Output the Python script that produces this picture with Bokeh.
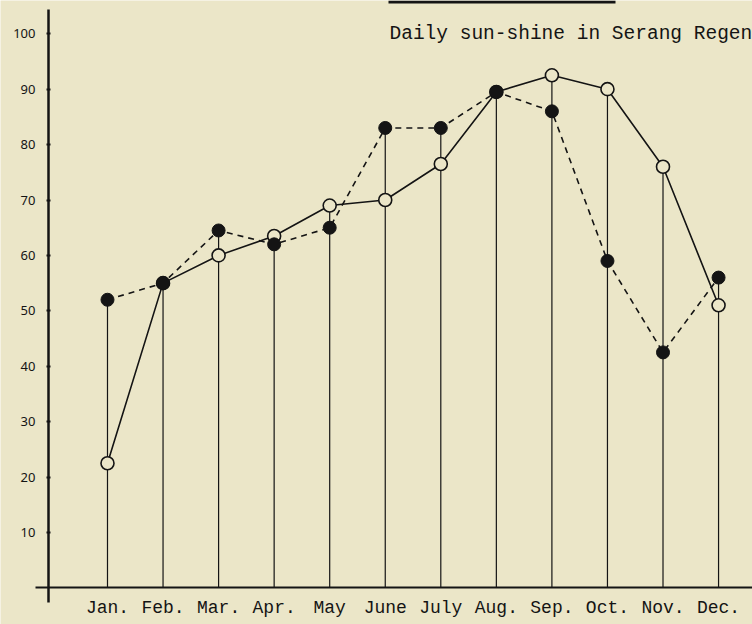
import numpy as np
from bokeh.plotting import figure
from bokeh.models import (Range1d, LinearAxis, FixedTicker, Label,
                          ColumnDataSource, BoxAnnotation)
from bokeh.embed import file_html
from bokeh.resources import INLINE

# ---- data ----
months = ["Jan.", "Feb.", "Mar.", "Apr.", "May", "June", "July",
          "Aug.", "Sep.", "Oct.", "Nov.", "Dec."]
sunshine_open = [22.5, 55, 60, 63.5, 69, 70, 76.5, 89.5, 92.5, 90, 76, 51]
sunshine_filled = [52, 55, 64.5, 62, 65, 83, 83, 89.5, 86, 59, 42.5, 56]
y_ticks = [10, 20, 30, 40, 50, 60, 70, 80, 90, 100]
title_text = "Daily sun-shine in Serang Regen"

# ---- styles ----
BG = "#ebe6c8"
INK = "#141414"

x = np.arange(1, len(months) + 1)
top = np.maximum(np.array(sunshine_open), np.array(sunshine_filled))

src = ColumnDataSource(dict(x=x, o=sunshine_open, f=sunshine_filled, top=top,
                            zero=np.zeros(len(x))))

p = figure(width=752, height=624, output_backend="svg", toolbar_location=None,
           x_axis_type=None, y_axis_type=None, min_border=0,
           x_range=Range1d(-0.926, 12.611), y_range=Range1d(-6.6, 106.0))
p.background_fill_color = BG
p.border_fill_color = BG
p.outline_line_color = None

# axes
yaxis = LinearAxis(fixed_location=-0.062, bounds=(-2.7, 104.3),
                   ticker=FixedTicker(ticks=y_ticks))
yaxis.axis_line_width = 2.5
yaxis.axis_line_color = INK
yaxis.major_tick_line_color = INK
yaxis.major_tick_line_width = 2
yaxis.major_tick_in = 2
yaxis.major_tick_out = 2
yaxis.minor_tick_line_color = None
yaxis.major_label_standoff = 11
yaxis.major_label_text_font = "Noto Sans"
yaxis.major_label_text_font_size = "13px"
yaxis.major_label_text_color = INK
p.add_layout(yaxis, "left")

xaxis = LinearAxis(fixed_location=0, bounds=(-0.296, 12.611),
                   ticker=FixedTicker(ticks=list(x)))
xaxis.major_label_overrides = {int(i): m for i, m in zip(x, months)}
xaxis.axis_line_width = 2
xaxis.axis_line_color = INK
xaxis.major_tick_line_color = None
xaxis.minor_tick_line_color = None
xaxis.major_label_standoff = 4
xaxis.major_label_text_font = "Liberation Mono"
xaxis.major_label_text_font_size = "18px"
xaxis.major_label_text_color = INK
p.add_layout(xaxis, "below")

# drop lines
p.segment(x0="x", y0="zero", x1="x", y1="top", source=src,
          line_color=INK, line_width=1.2)

# series lines
p.line("x", "f", source=src, line_color=INK, line_width=1.6, line_dash="6 5")
p.line("x", "o", source=src, line_color=INK, line_width=1.6)

# markers
p.scatter("x", "o", source=src, size=13, fill_color=BG, line_color=INK,
          line_width=1.6)
p.scatter("x", "f", source=src, size=13, fill_color=INK, line_color=INK)

# underline remnant at the top of the page
p.add_layout(BoxAnnotation(left=388, right=615, top=624, bottom=621,
                           left_units="screen", right_units="screen",
                           top_units="screen", bottom_units="screen",
                           fill_color=INK, fill_alpha=1, line_color=None))

p.add_layout(Label(x=389, y=591, x_units="screen", y_units="screen",
                   text=title_text, text_font="Liberation Mono",
                   text_font_size="19.5px", text_baseline="middle",
                   text_color=INK))

open("out.html", "w").write(file_html(p, INLINE))
